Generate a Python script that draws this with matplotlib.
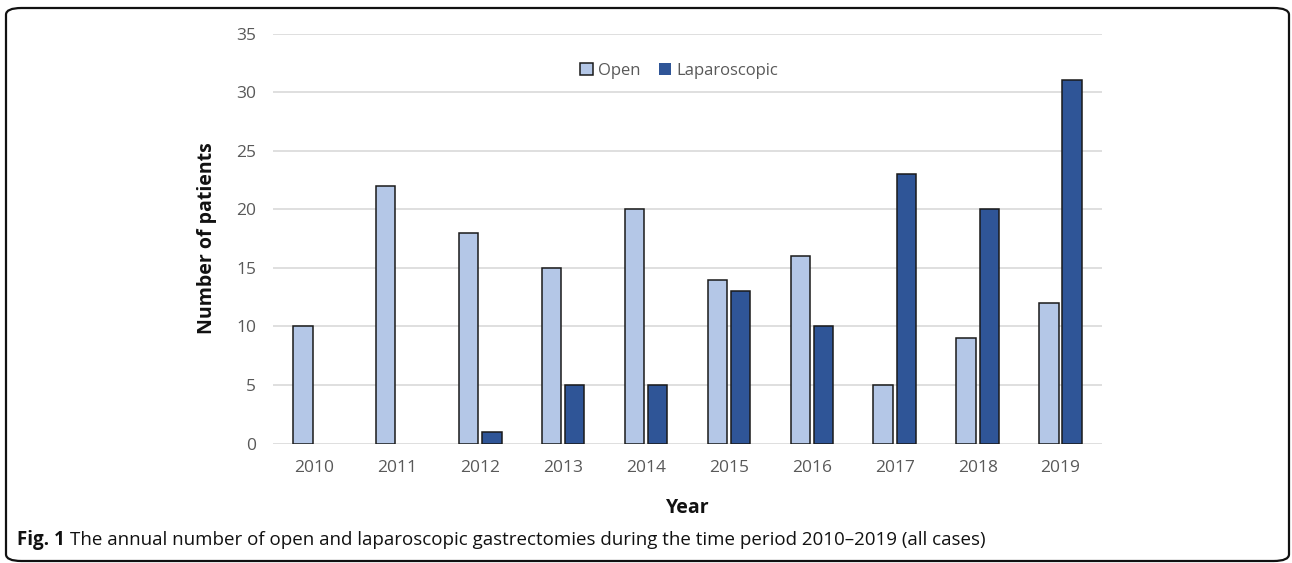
import matplotlib
matplotlib.use("Agg")
import matplotlib.pyplot as plt
import numpy as np
from matplotlib.patches import FancyBboxPatch

years = ["2010", "2011", "2012", "2013", "2014", "2015", "2016", "2017", "2018", "2019"]
open_cases = [10, 22, 18, 15, 20, 14, 16, 5, 9, 12]
lap_cases = [0, 0, 1, 5, 5, 13, 10, 23, 20, 31]
yticks = [0, 5, 10, 15, 20, 25, 30, 35]

plt.rcParams["font.family"] = ["Open Sans", "DejaVu Sans"]

W, H = 1292, 563
fig = plt.figure(figsize=(W / 100, H / 100), dpi=100)

# rounded frame around the whole figure
frame = FancyBboxPatch((6 / W, 2 / H), (1283 / W), (553 / H),
                       boxstyle="round,pad=0,rounding_size=0.012",
                       transform=fig.transFigure, fill=False,
                       edgecolor="#111111", linewidth=1.6)
fig.patches.append(frame)

ax = fig.add_axes([273 / W, (H - 443.5) / H, 829 / W, 410 / H])

x = np.arange(len(years))
bw = 0.235
off = 0.14
bars_open = ax.bar(x - off, open_cases, bw, color="#B4C7E7", edgecolor="#1a1a1a",
                   linewidth=1.1, label="Open", zorder=3)
bars_lap = ax.bar(x + off, lap_cases, bw, color="#2F5597", edgecolor="#1a1a1a",
                  linewidth=1.1, label="Laparoscopic", zorder=3)
# empty years draw no outline
for bars, vals in ((bars_open, open_cases), (bars_lap, lap_cases)):
    for b, v in zip(bars, vals):
        if v == 0:
            b.set_linewidth(0)

ax.set_xlim(-0.5, len(years) - 0.5)
ax.set_ylim(0, 35)
ax.set_yticks(yticks)
ax.set_xticks(x)
ax.set_xticklabels(years)
ax.yaxis.grid(True, color="#D9D9D9", linewidth=1.2, zorder=0)
ax.set_axisbelow(True)
for s in ax.spines.values():
    s.set_visible(False)
ax.tick_params(axis="both", length=0, labelsize=12.5, labelcolor="#595959")
ax.tick_params(axis="y", pad=12)
ax.tick_params(axis="x", pad=12)

ax.set_ylabel("Number of patients", fontsize=14, fontweight="bold",
              color="#111111", labelpad=14)
ax.set_xlabel("Year", fontsize=14, fontweight="bold", color="#111111",
              labelpad=16)

leg = ax.legend(loc="upper center", bbox_to_anchor=(0.49, 0.965), ncol=2,
                frameon=False, fontsize=12, handlelength=0.75,
                handleheight=0.75, handletextpad=0.3, columnspacing=1.1)
for t in leg.get_texts():
    t.set_color("#595959")

# caption with bold figure number
fig.canvas.draw()
r = fig.canvas.get_renderer()
cap_y = (H - 540) / H
t1 = fig.text(17 / W, cap_y, "Fig. 1", fontsize=13.5, fontweight="bold",
              va="center", ha="left", color="#111111")
bb = t1.get_window_extent(renderer=r)
fig.text((bb.x1 + 5) / W, cap_y,
         "The annual number of open and laparoscopic gastrectomies during the "
         "time period 2010\u20132019 (all cases)",
         fontsize=13.5, va="center", ha="left", color="#111111")

fig.savefig("out.png", dpi=100)
